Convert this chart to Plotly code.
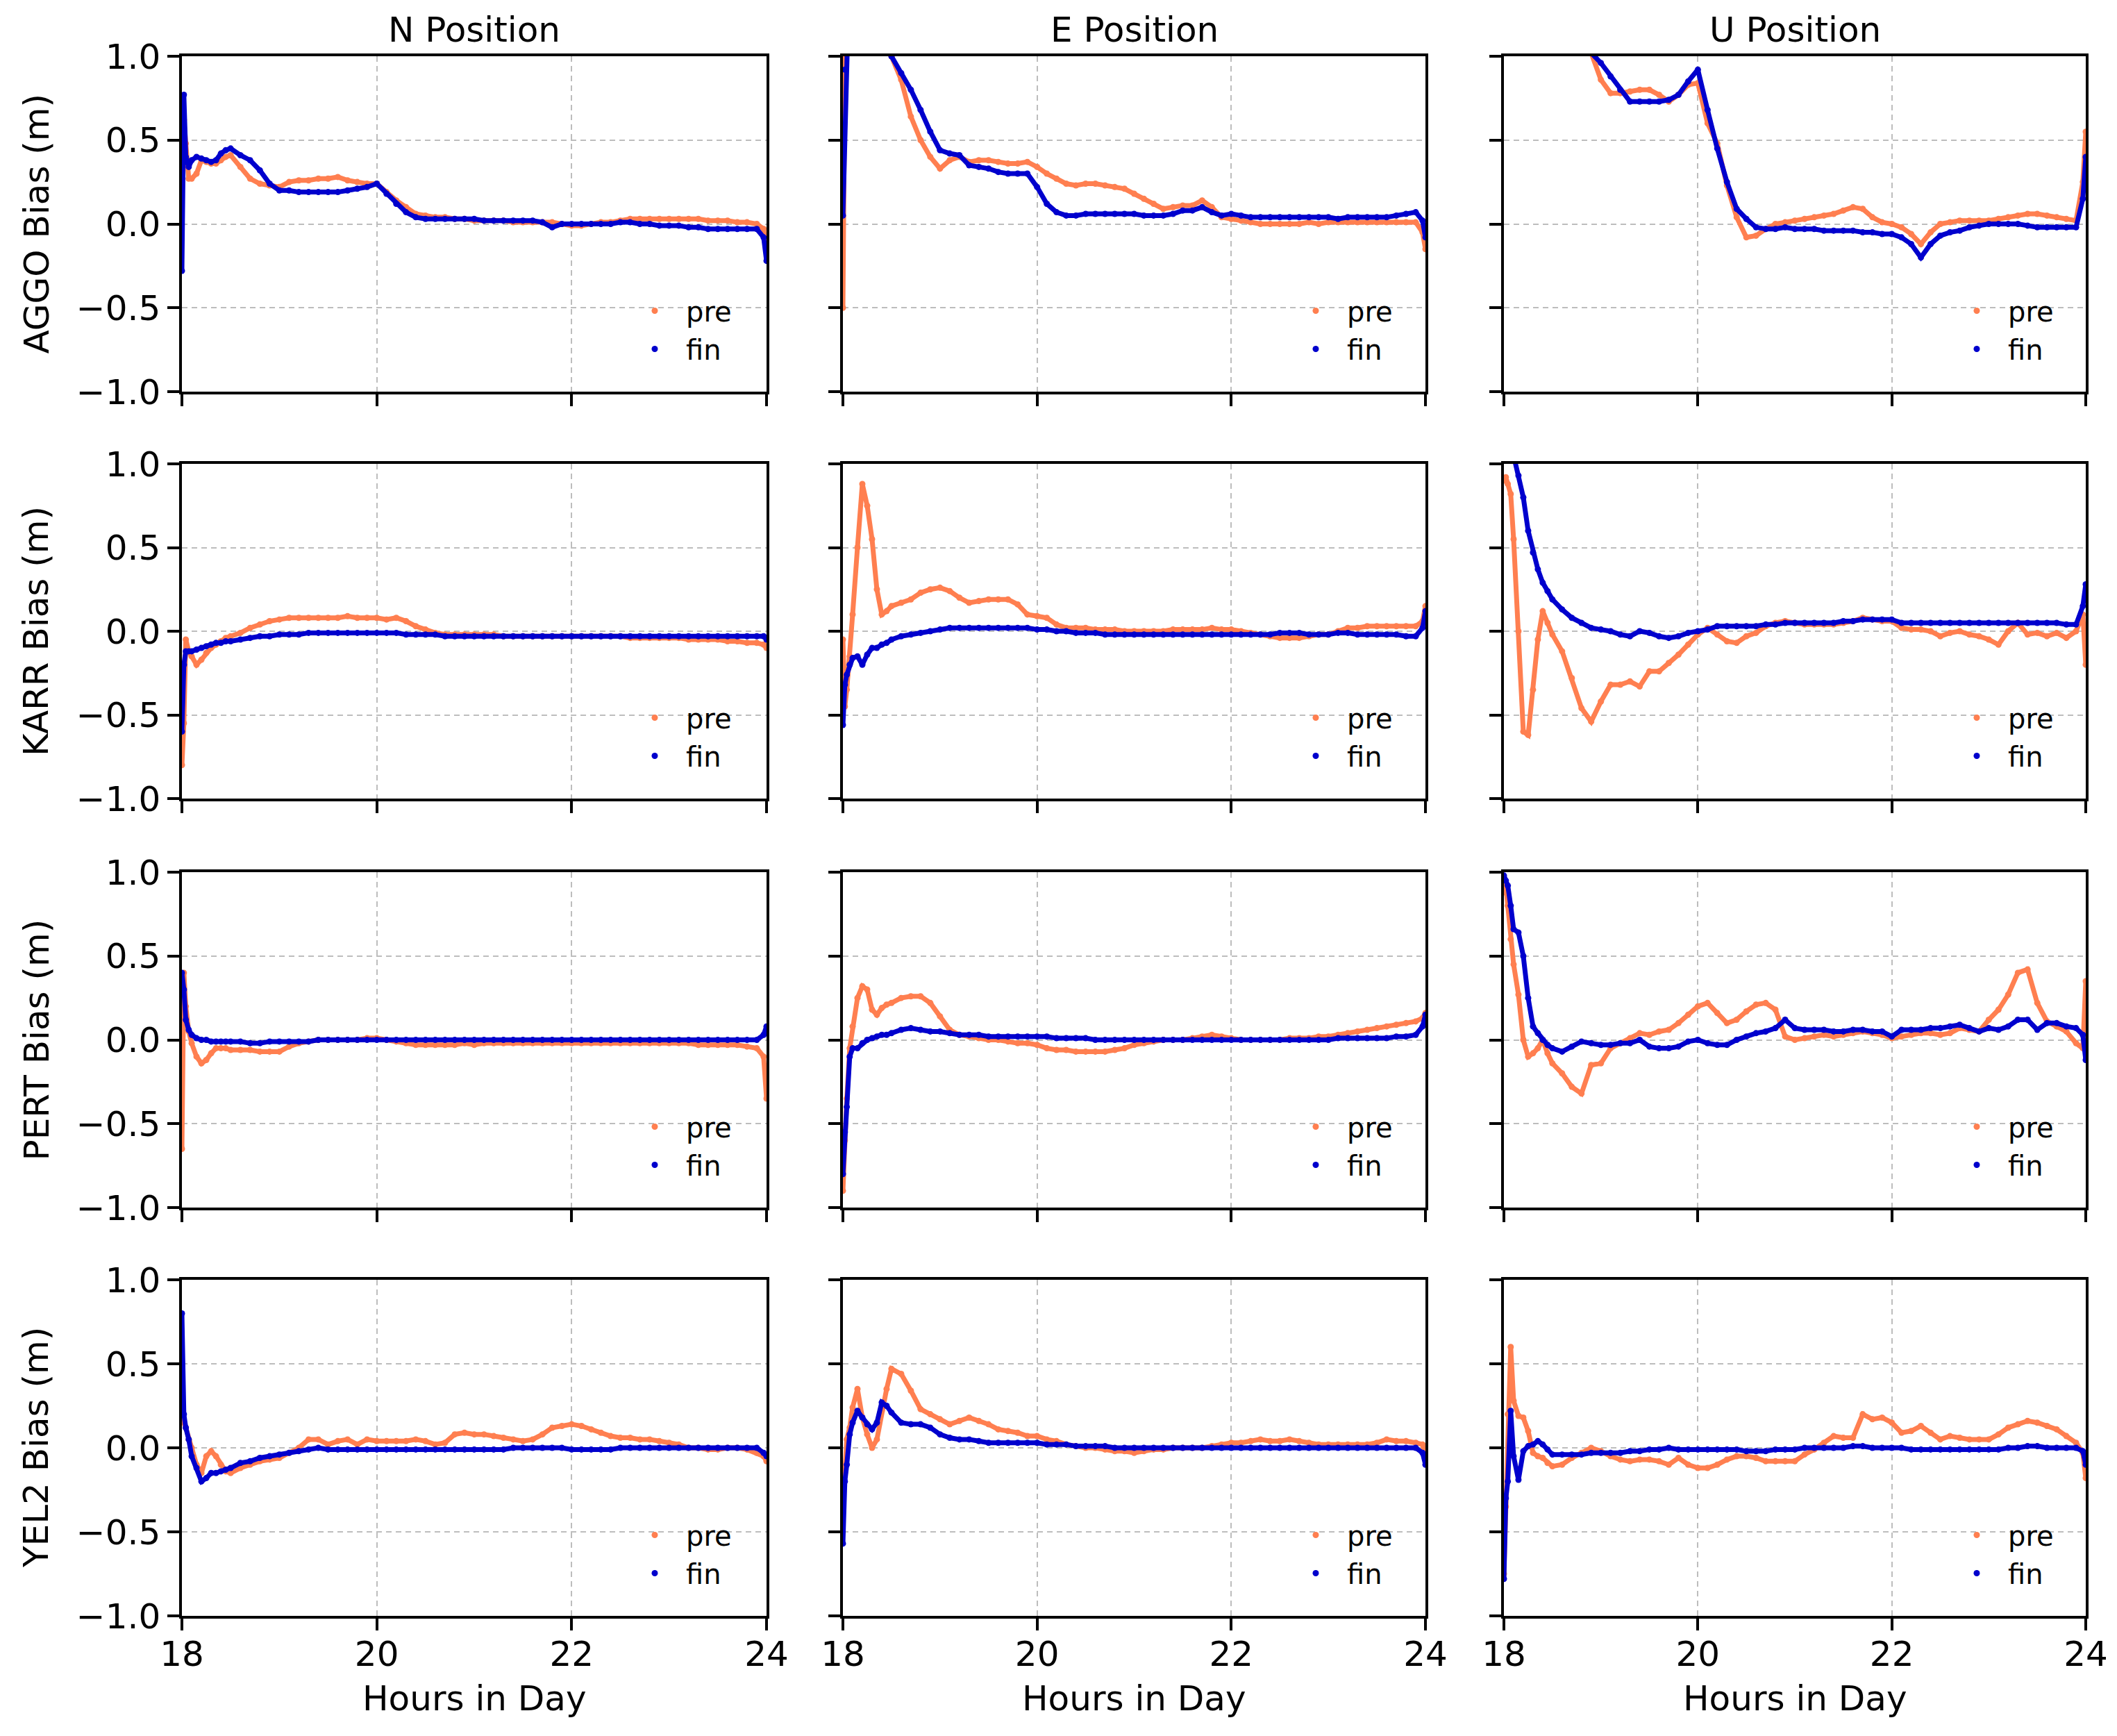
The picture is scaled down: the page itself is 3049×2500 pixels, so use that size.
import plotly.graph_objects as go
from plotly.subplots import make_subplots

# sample times (hours)
hours = [18.00, 18.02, 18.04, 18.07, 18.10, 18.15, 18.20, 18.25, 18.30, 18.35, 18.40, 18.45,
         18.5, 18.6, 18.7, 18.8, 18.9, 19.0, 19.1, 19.2, 19.3, 19.4, 19.5, 19.6, 19.7, 19.8, 19.9, 20.0,
         20.1, 20.2, 20.3, 20.4, 20.5, 20.6, 20.7, 20.8, 20.9, 21.0,
         21.1, 21.2, 21.3, 21.4, 21.5, 21.6, 21.7, 21.8, 21.9, 22.0,
         22.1, 22.2, 22.3, 22.4, 22.5, 22.6, 22.7, 22.8, 22.9, 23.0,
         23.1, 23.2, 23.3, 23.4, 23.5, 23.6, 23.7, 23.8, 23.9, 23.97, 24.0]

stations = ["AGGO", "KARR", "PERT", "YEL2"]
components = ["N Position", "E Position", "U Position"]
x_ticks = [18, 20, 22, 24]
y_ticks = [-1.0, -0.5, 0.0, 0.5, 1.0]
y_tick_labels = ["\u22121.0", "\u22120.5", "0.0", "0.5", "1.0"]

# ---- AGGO ----
aggo_n_pre = ([0.25, 0.62, 0.48, 0.27, 0.27, 0.30, 0.38, 0.37, 0.36, 0.36, 0.38, 0.40]
              + [0.41, 0.34, 0.27, 0.24, 0.23, 0.22, 0.25, 0.26, 0.26, 0.27, 0.27, 0.28, 0.26, 0.25, 0.24, 0.24]
              + [0.19, 0.14, 0.10, 0.06, 0.05, 0.04, 0.04, 0.03, 0.03, 0.02, 0.02, 0.02, 0.02, 0.01, 0.01, 0.01, 0.01, 0.01, 0.00, -0.01]
              + [-0.01, 0.00, 0.01, 0.01, 0.02, 0.03, 0.03, 0.03, 0.03, 0.03, 0.03, 0.03, 0.03, 0.02, 0.02, 0.02, 0.01, 0.01, 0.00, -0.03, -0.15])
aggo_n_fin = ([-0.28, 0.77, 0.40, 0.34, 0.38, 0.40, 0.39, 0.38, 0.37, 0.38, 0.42, 0.44]
              + [0.45, 0.41, 0.38, 0.32, 0.24, 0.20, 0.20, 0.19, 0.19, 0.19, 0.19, 0.19, 0.20, 0.21, 0.22, 0.24]
              + [0.18, 0.12, 0.07, 0.04, 0.03, 0.03, 0.03, 0.03, 0.03, 0.03, 0.02, 0.02, 0.02, 0.02, 0.02, 0.02, 0.01, -0.02, 0.00, 0.00]
              + [0.00, 0.00, 0.00, 0.00, 0.01, 0.01, 0.00, 0.00, -0.01, -0.01, -0.01, -0.02, -0.02, -0.03, -0.03, -0.03, -0.03, -0.03, -0.03, -0.08, -0.22])
aggo_e_pre = ([-0.50, 0.95, 1.40, 1.60, 1.70, 1.70, 1.60, 1.50, 1.40, 1.30, 1.20, 1.10]
              + [1.00, 0.86, 0.64, 0.50, 0.40, 0.33, 0.38, 0.40, 0.37, 0.38, 0.38, 0.37, 0.36, 0.36, 0.37, 0.34]
              + [0.30, 0.27, 0.24, 0.23, 0.24, 0.24, 0.23, 0.22, 0.21, 0.18, 0.15, 0.12, 0.09, 0.10, 0.11, 0.11, 0.14, 0.10, 0.04, 0.03]
              + [0.02, 0.01, 0.00, 0.00, 0.00, 0.00, 0.00, 0.01, 0.00, 0.01, 0.01, 0.01, 0.01, 0.01, 0.01, 0.01, 0.01, 0.01, 0.01, -0.05, -0.15])
aggo_e_fin = ([0.05, 0.92, 1.40, 1.60, 1.70, 1.70, 1.60, 1.50, 1.40, 1.30, 1.20, 1.10]
              + [1.00, 0.90, 0.80, 0.68, 0.55, 0.44, 0.42, 0.41, 0.35, 0.34, 0.33, 0.31, 0.30, 0.30, 0.30, 0.22]
              + [0.12, 0.07, 0.05, 0.05, 0.06, 0.06, 0.06, 0.06, 0.06, 0.06, 0.05, 0.05, 0.05, 0.06, 0.08, 0.08, 0.10, 0.07, 0.05, 0.06]
              + [0.05, 0.04, 0.04, 0.04, 0.04, 0.04, 0.04, 0.04, 0.04, 0.04, 0.03, 0.04, 0.04, 0.04, 0.04, 0.04, 0.05, 0.06, 0.07, 0.02, -0.08])
aggo_u_pre = ([1.50, 1.60, 1.70, 1.70, 1.60, 1.60, 1.50, 1.40, 1.30, 1.25, 1.20, 1.15]
              + [1.10, 1.08, 1.06, 1.04, 1.02, 0.86, 0.78, 0.78, 0.79, 0.80, 0.80, 0.77, 0.73, 0.77, 0.83, 0.84]
              + [0.60, 0.48, 0.23, 0.04, -0.08, -0.07, -0.03, 0.00, 0.01, 0.02, 0.03, 0.04, 0.05, 0.06, 0.08, 0.10, 0.09, 0.04, 0.01, 0.00]
              + [-0.02, -0.06, -0.12, -0.05, 0.00, 0.01, 0.02, 0.02, 0.02, 0.02, 0.03, 0.04, 0.05, 0.06, 0.06, 0.05, 0.04, 0.03, 0.02, 0.25, 0.55])
aggo_u_fin = ([1.50, 1.60, 1.70, 1.70, 1.60, 1.60, 1.50, 1.40, 1.30, 1.25, 1.20, 1.15]
              + [1.10, 1.08, 1.06, 1.04, 1.02, 0.96, 0.88, 0.80, 0.73, 0.73, 0.73, 0.73, 0.74, 0.77, 0.85, 0.92]
              + [0.68, 0.45, 0.25, 0.09, 0.03, -0.02, -0.03, -0.03, -0.02, -0.03, -0.03, -0.03, -0.04, -0.04, -0.04, -0.04, -0.05, -0.05, -0.06, -0.06]
              + [-0.08, -0.12, -0.20, -0.12, -0.07, -0.05, -0.04, -0.02, -0.01, 0.00, 0.00, 0.00, 0.00, -0.01, -0.02, -0.02, -0.02, -0.02, -0.02, 0.15, 0.40])

# ---- KARR ----
karr_n_pre = ([-0.80, -0.55, -0.05, -0.12, -0.15, -0.20, -0.17, -0.13, -0.10, -0.08, -0.06, -0.04]
              + [-0.03, -0.01, 0.02, 0.04, 0.06, 0.07, 0.08, 0.08, 0.08, 0.08, 0.08, 0.08, 0.09, 0.08, 0.08, 0.08]
              + [0.07, 0.08, 0.06, 0.03, 0.01, -0.01, -0.02, -0.02, -0.02, -0.02, -0.02, -0.02, -0.03, -0.03, -0.03, -0.03, -0.03, -0.03, -0.03, -0.03]
              + [-0.03, -0.03, -0.03, -0.03, -0.03, -0.04, -0.04, -0.04, -0.04, -0.04, -0.04, -0.05, -0.05, -0.05, -0.05, -0.06, -0.06, -0.07, -0.07, -0.08, -0.10])
karr_n_fin = ([-0.60, -0.20, -0.12, -0.12, -0.12, -0.11, -0.10, -0.09, -0.08, -0.07, -0.07, -0.06]
              + [-0.06, -0.05, -0.04, -0.03, -0.03, -0.02, -0.02, -0.02, -0.01, -0.01, -0.01, -0.01, -0.01, -0.01, -0.01, -0.01]
              + [-0.01, -0.01, -0.02, -0.02, -0.02, -0.02] + [-0.03] * 14
              + [-0.03] * 20 + [-0.05])
karr_e_pre = ([-0.05, -0.45, -0.35, -0.15, 0.10, 0.50, 0.88, 0.75, 0.55, 0.25, 0.10, 0.12]
              + [0.15, 0.17, 0.19, 0.23, 0.25, 0.26, 0.24, 0.20, 0.17, 0.18, 0.19, 0.19, 0.19, 0.16, 0.10, 0.09]
              + [0.08, 0.04, 0.02, 0.02, 0.02, 0.01, 0.01, 0.01, 0.00, 0.00, 0.00, 0.00, 0.00, 0.01, 0.01, 0.01, 0.01, 0.02, 0.01, 0.01]
              + [0.00, -0.01, -0.02, -0.03, -0.04, -0.04, -0.04, -0.03, -0.02, -0.02, 0.00, 0.02, 0.02, 0.03, 0.03, 0.03, 0.03, 0.03, 0.03, 0.06, 0.15])
karr_e_fin = ([-0.56, -0.32, -0.26, -0.20, -0.16, -0.15, -0.20, -0.14, -0.10, -0.10, -0.08, -0.07]
              + [-0.05, -0.03, -0.02, -0.01, 0.00, 0.01, 0.02, 0.02, 0.02, 0.02, 0.02, 0.02, 0.02, 0.02, 0.02, 0.01]
              + [0.01, 0.00, 0.00, -0.01, -0.01, -0.01] + [-0.02] * 14
              + [-0.02, -0.02, -0.02, -0.02, -0.01, -0.01, -0.01, -0.02, -0.02, -0.02, -0.01, -0.01, -0.02, -0.02, -0.02, -0.02, -0.02, -0.03, -0.03, 0.02, 0.12])
karr_u_pre = ([0.90, 0.92, 0.88, 0.82, 0.55, 0.00, -0.60, -0.62, -0.35, -0.05, 0.12, 0.05]
              + [-0.02, -0.12, -0.28, -0.46, -0.54, -0.42, -0.32, -0.32, -0.30, -0.33, -0.24, -0.24, -0.19, -0.14, -0.08, -0.02]
              + [0.02, -0.02, -0.06, -0.07, -0.03, -0.01, 0.03, 0.05, 0.06, 0.05, 0.04, 0.04, 0.04, 0.04, 0.05, 0.06, 0.08, 0.07, 0.06, 0.06]
              + [0.02, 0.01, 0.01, 0.00, -0.03, -0.01, 0.00, -0.02, -0.03, -0.05, -0.08, 0.00, 0.05, -0.02, -0.01, -0.03, -0.01, -0.04, 0.00, 0.10, -0.20])
karr_u_fin = ([1.30, 1.25, 1.20, 1.10, 1.05, 0.93, 0.80, 0.60, 0.47, 0.37, 0.29, 0.24]
              + [0.19, 0.13, 0.08, 0.05, 0.02, 0.01, 0.00, -0.02, -0.03, 0.00, -0.01, -0.03, -0.04, -0.03, -0.01, 0.00]
              + [0.01, 0.03, 0.03, 0.03, 0.03, 0.03, 0.04, 0.04, 0.05, 0.05, 0.05, 0.05, 0.05, 0.05, 0.06, 0.06, 0.07, 0.07, 0.07, 0.07]
              + [0.05] * 17 + [0.04, 0.04, 0.15, 0.28])

# ---- PERT ----
pert_n_pre = ([-0.65, 0.40, 0.20, 0.05, -0.02, -0.10, -0.14, -0.12, -0.08, -0.05, -0.05, -0.05]
              + [-0.06, -0.06, -0.06, -0.07, -0.07, -0.07, -0.04, -0.02, -0.01, 0.00, 0.00, 0.00, 0.00, 0.00, 0.01, 0.01]
              + [0.00, -0.01, -0.02, -0.03, -0.03, -0.03, -0.03, -0.03, -0.02, -0.03] + [-0.02] * 10
              + [-0.02] * 12 + [-0.03, -0.03, -0.03, -0.03, -0.03, -0.04, -0.05, -0.10, -0.35])
pert_n_fin = ([0.40, 0.30, 0.12, 0.06, 0.03, 0.01, 0.00, 0.00, -0.01, -0.01, -0.01, -0.01]
              + [-0.01, -0.01, -0.02, -0.02, -0.01, -0.01, -0.01, -0.01, -0.01, 0.00, 0.00, 0.00, 0.00, 0.00, 0.00, 0.00]
              + [0.00] * 20
              + [0.00] * 19 + [0.03, 0.08])
pert_e_pre = ([-0.90, -0.60, -0.35, -0.05, 0.08, 0.25, 0.32, 0.30, 0.18, 0.15, 0.19, 0.21]
              + [0.22, 0.25, 0.26, 0.26, 0.22, 0.14, 0.06, 0.03, 0.02, 0.01, 0.00, 0.00, -0.01, -0.02, -0.02, -0.03]
              + [-0.05, -0.06, -0.06, -0.07, -0.07, -0.07, -0.07, -0.06, -0.05, -0.03, -0.02, -0.01, 0.00, 0.00, 0.00, 0.01, 0.02, 0.03, 0.02, 0.01]
              + [0.00, 0.00, 0.00, 0.00, 0.00, 0.01, 0.01, 0.01, 0.02, 0.02, 0.03, 0.04, 0.05, 0.06, 0.07, 0.08, 0.09, 0.10, 0.11, 0.13, 0.16])
pert_e_fin = ([-0.80, -0.55, -0.40, -0.10, -0.05, -0.05, -0.02, 0.00, 0.01, 0.02, 0.03, 0.03]
              + [0.04, 0.06, 0.07, 0.06, 0.05, 0.05, 0.04, 0.03, 0.03, 0.03, 0.02, 0.02, 0.02, 0.02, 0.02, 0.02]
              + [0.02, 0.01, 0.01, 0.01, 0.01] + [0.00] * 15
              + [0.00] * 10 + [0.01, 0.01, 0.01, 0.01, 0.01, 0.01, 0.02, 0.02, 0.03, 0.08, 0.15])
pert_u_pre = ([0.88, 0.92, 0.80, 0.60, 0.45, 0.27, 0.00, -0.10, -0.08, -0.05, 0.00, -0.08]
              + [-0.14, -0.20, -0.28, -0.32, -0.15, -0.14, -0.05, -0.02, 0.01, 0.04, 0.03, 0.05, 0.06, 0.10, 0.15, 0.20]
              + [0.22, 0.16, 0.10, 0.12, 0.17, 0.21, 0.22, 0.18, 0.02, 0.00, 0.01, 0.02, 0.03, 0.02, 0.03, 0.04, 0.05, 0.04, 0.03, 0.01]
              + [0.02, 0.03, 0.04, 0.04, 0.03, 0.04, 0.07, 0.06, 0.05, 0.12, 0.18, 0.27, 0.40, 0.42, 0.22, 0.11, 0.08, 0.05, -0.02, -0.05, 0.35])
pert_u_fin = ([0.98, 0.95, 0.92, 0.80, 0.66, 0.64, 0.50, 0.25, 0.08, 0.04, 0.00, -0.03]
              + [-0.05, -0.07, -0.04, -0.01, -0.02, -0.03, -0.03, -0.02, -0.02, 0.00, -0.04, -0.05, -0.05, -0.04, -0.01, 0.00]
              + [-0.02, -0.03, -0.03, 0.00, 0.02, 0.04, 0.05, 0.07, 0.12, 0.07, 0.06, 0.06, 0.06, 0.05, 0.05, 0.06, 0.06, 0.05, 0.05, 0.02]
              + [0.06, 0.06, 0.06, 0.07, 0.07, 0.08, 0.09, 0.07, 0.05, 0.07, 0.06, 0.08, 0.12, 0.12, 0.06, 0.10, 0.10, 0.08, 0.07, 0.03, -0.12])

# ---- YEL2 ----
yel2_n_pre = ([0.40, 0.15, 0.12, 0.05, 0.00, -0.10, -0.15, -0.05, -0.02, -0.05, -0.10, -0.14]
              + [-0.15, -0.12, -0.10, -0.08, -0.07, -0.06, -0.03, 0.00, 0.05, 0.05, 0.02, 0.04, 0.05, 0.02, 0.05, 0.04]
              + [0.04, 0.04, 0.04, 0.05, 0.04, 0.02, 0.03, 0.08, 0.09, 0.08, 0.08, 0.07, 0.06, 0.05, 0.04, 0.05, 0.08, 0.12, 0.13, 0.14]
              + [0.13, 0.11, 0.09, 0.07, 0.06, 0.06, 0.05, 0.05, 0.04, 0.03, 0.02, 0.00, 0.00, -0.01, -0.01, 0.00, 0.00, -0.01, -0.03, -0.05, -0.08])
yel2_n_fin = ([0.80, 0.20, 0.12, 0.05, -0.05, -0.12, -0.20, -0.18, -0.15, -0.15, -0.14, -0.13]
              + [-0.12, -0.09, -0.08, -0.06, -0.05, -0.04, -0.03, -0.02, -0.01, 0.00, -0.01, -0.01, -0.01, -0.01, -0.01, -0.01]
              + [-0.01] * 13 + [0.00] * 6 + [-0.01]
              + [-0.01, -0.01, -0.01, -0.01] + [0.00] * 15 + [-0.03, -0.05])
yel2_e_pre = ([-0.35, -0.15, 0.05, 0.12, 0.24, 0.35, 0.18, 0.08, 0.00, 0.05, 0.22, 0.35]
              + [0.47, 0.44, 0.34, 0.23, 0.20, 0.17, 0.14, 0.16, 0.18, 0.16, 0.14, 0.11, 0.10, 0.09, 0.07, 0.07]
              + [0.05, 0.04, 0.02, 0.01, 0.00, 0.00, -0.01, -0.02, -0.02, -0.03, -0.02, -0.01, -0.01, 0.00, 0.00, 0.00, 0.00, 0.01, 0.02, 0.03]
              + [0.03, 0.04, 0.05, 0.04, 0.04, 0.05, 0.04, 0.03, 0.02, 0.02, 0.02, 0.02, 0.02, 0.02, 0.03, 0.05, 0.04, 0.04, 0.03, 0.02, -0.05])
yel2_e_fin = ([-0.57, -0.20, -0.10, 0.08, 0.15, 0.22, 0.18, 0.14, 0.11, 0.15, 0.27, 0.25]
              + [0.21, 0.15, 0.14, 0.14, 0.12, 0.08, 0.06, 0.05, 0.05, 0.04, 0.03, 0.03, 0.03, 0.03, 0.03, 0.03]
              + [0.02, 0.02, 0.02, 0.01, 0.01, 0.01, 0.01] + [0.00] * 13
              + [0.00] * 19 + [-0.03, -0.10])
yel2_u_pre = ([-0.75, -0.35, 0.20, 0.60, 0.28, 0.19, 0.18, 0.10, -0.03, -0.05, -0.06, -0.09]
              + [-0.11, -0.10, -0.06, -0.03, 0.00, -0.02, -0.05, -0.07, -0.08, -0.07, -0.07, -0.08, -0.10, -0.06, -0.10, -0.12]
              + [-0.12, -0.10, -0.07, -0.05, -0.05, -0.06, -0.08, -0.08, -0.08, -0.08, -0.04, -0.01, 0.03, 0.07, 0.06, 0.06, 0.20, 0.17, 0.18, 0.15]
              + [0.09, 0.10, 0.13, 0.09, 0.05, 0.07, 0.06, 0.05, 0.05, 0.05, 0.08, 0.12, 0.14, 0.16, 0.15, 0.13, 0.11, 0.07, 0.03, -0.03, -0.18])
yel2_u_fin = ([-0.78, -0.30, -0.20, 0.22, -0.05, -0.19, -0.02, 0.01, 0.02, 0.04, 0.02, -0.01]
              + [-0.04, -0.04, -0.04, -0.04, -0.03, -0.03, -0.03, -0.03, -0.02, -0.02, -0.01, -0.01, 0.00, -0.01, -0.01, -0.01]
              + [-0.01, -0.01, -0.01, -0.01, -0.02, -0.02, -0.02, -0.01, -0.01, -0.01, 0.00, 0.00, 0.00, 0.00, 0.00, 0.01, 0.01, 0.00, 0.00, 0.00]
              + [0.00, -0.01, -0.01, -0.01, -0.01, -0.01, -0.01, -0.01, -0.01, -0.01, -0.01, 0.00, 0.00, 0.01, 0.01, 0.00, 0.00, 0.00, 0.00, -0.02, -0.10])

bias = [
    [(aggo_n_pre, aggo_n_fin), (aggo_e_pre, aggo_e_fin), (aggo_u_pre, aggo_u_fin)],
    [(karr_n_pre, karr_n_fin), (karr_e_pre, karr_e_fin), (karr_u_pre, karr_u_fin)],
    [(pert_n_pre, pert_n_fin), (pert_e_pre, pert_e_fin), (pert_u_pre, pert_u_fin)],
    [(yel2_n_pre, yel2_n_fin), (yel2_e_pre, yel2_e_fin), (yel2_u_pre, yel2_u_fin)],
]

for row in bias:
    for pre, fin in row:
        assert len(pre) == len(hours) and len(fin) == len(hours), (len(pre), len(fin))

W, H = 3049, 2500
OFF = 8  # the page body adds an 8px margin; shift everything back by it
col_px = [(262 - OFF, 1104 - OFF), (1214 - OFF, 2053 - OFF), (2166 - OFF, 3004 - OFF)]
row_px = [(81 - OFF, 564 - OFF), (668 - OFF, 1150 - OFF), (1256 - OFF, 1739 - OFF), (1843 - OFF, 2327 - OFF)]
pre_color = "#ff7f50"
fin_color = "#0000cd"
font_name = "DejaVu Sans"

fig = make_subplots(rows=4, cols=3)

for r in range(4):
    for c in range(3):
        k = r * 3 + c + 1
        pre, fin = bias[r][c]
        legend_name = "legend" if k == 1 else f"legend{k}"
        for vals, color in ((pre, pre_color), (fin, fin_color)):
            fig.add_trace(go.Scatter(x=hours, y=vals, mode="lines+markers",
                                     line=dict(color=color, width=7),
                                     marker=dict(color=color, size=9),
                                     showlegend=False, hoverinfo="skip"),
                          row=r + 1, col=c + 1)
        # legend-only entries (dot symbol like the original)
        for name, color in (("pre", pre_color), ("fin", fin_color)):
            fig.add_trace(go.Scatter(x=[None], y=[None], mode="markers", name=name,
                                     marker=dict(color=color, size=9),
                                     legend=legend_name),
                          row=r + 1, col=c + 1)

        x0, x1 = col_px[c]
        y0, y1 = row_px[r]
        fig.update_xaxes(domain=[x0 / W, x1 / W], range=[18, 24], tickvals=x_ticks,
                         showticklabels=(r == 3), row=r + 1, col=c + 1)
        fig.update_yaxes(domain=[1 - y1 / H, 1 - y0 / H], range=[-1, 1], tickvals=y_ticks,
                         ticktext=y_tick_labels, showticklabels=(c == 0), row=r + 1, col=c + 1)
        fig.layout[legend_name] = dict(x=(x0 + 636) / W, y=1 - (y1 - 89) / H,
                                       xanchor="left", yanchor="middle",
                                       bgcolor="rgba(0,0,0,0)", font=dict(size=40),
                                       itemwidth=80, tracegroupgap=0)

axis_style = dict(showgrid=True, gridcolor="#bdbdbd", griddash="8px,6px", gridwidth=2,
                  showline=True, linecolor="black", linewidth=3.5, mirror=True,
                  ticks="outside", ticklen=17, tickwidth=3.5, tickcolor="black",
                  zeroline=False, automargin=False, tickfont=dict(size=50, color="black"))
fig.update_xaxes(**axis_style)
fig.update_yaxes(**axis_style)
fig.update_xaxes(ticklabelstandoff=-9)

annotations = []
for c, title in enumerate(components):
    xc = (col_px[c][0] + col_px[c][1]) / 2 / W
    annotations.append(dict(text=title, x=xc, y=1 - (43 - OFF) / H, xref="paper", yref="paper",
                            showarrow=False, xanchor="center", yanchor="middle",
                            font=dict(size=50)))
    annotations.append(dict(text="Hours in Day", x=xc, y=1 - (2446 - OFF) / H, xref="paper", yref="paper",
                            showarrow=False, xanchor="center", yanchor="middle",
                            font=dict(size=50)))
for r, st in enumerate(stations):
    yc = 1 - (row_px[r][0] + row_px[r][1]) / 2 / H
    annotations.append(dict(text=f"{st} Bias (m)", x=(52 - OFF) / W, y=yc, xref="paper", yref="paper",
                            showarrow=False, xanchor="center", yanchor="middle", textangle=-90,
                            font=dict(size=50)))

fig.update_layout(width=W, height=H,
                  margin=dict(l=0, r=0, t=0, b=0, autoexpand=False),
                  paper_bgcolor="white", plot_bgcolor="white",
                  font=dict(family=font_name, color="black", size=50),
                  annotations=annotations)

fig.write_html("out.html")
